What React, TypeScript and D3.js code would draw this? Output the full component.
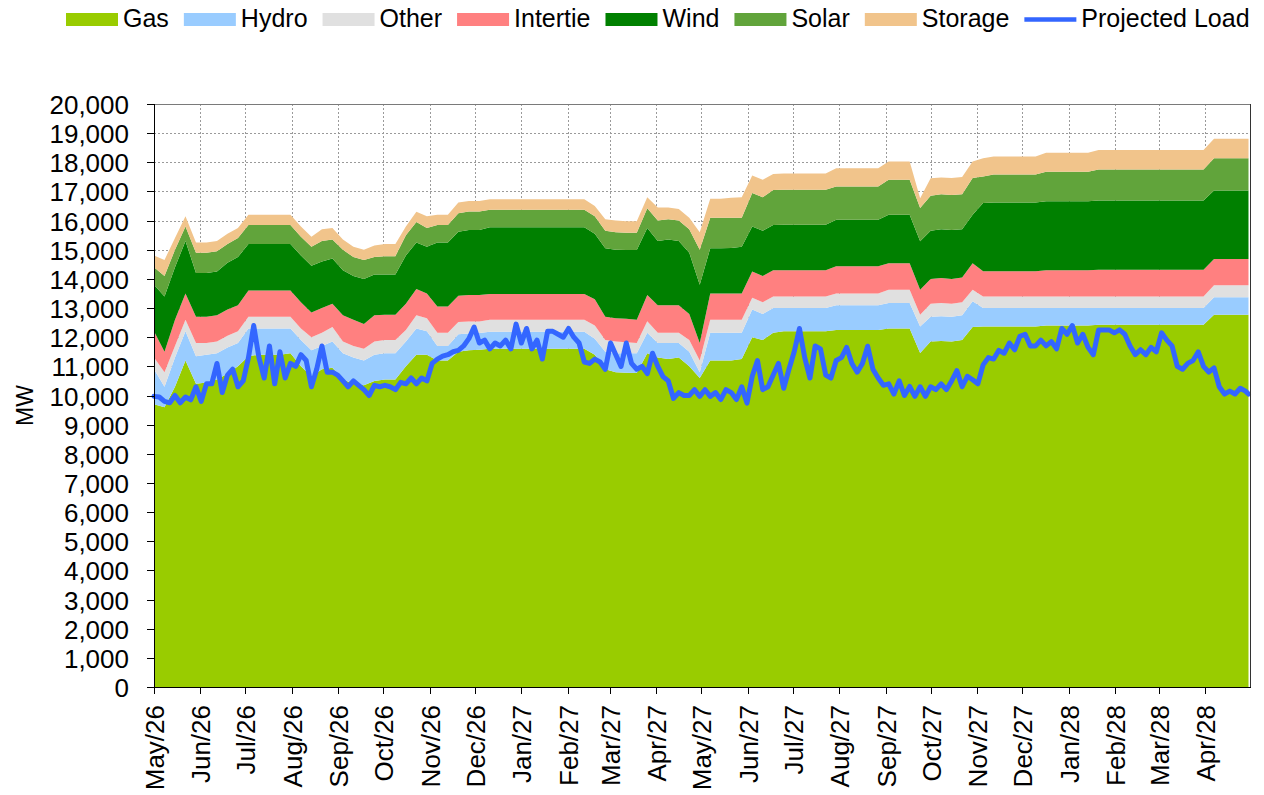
import * as d3 from "d3";
import React from "react";

// weekly samples from 1 May 2026, last one on 30 Apr 2028
const firstWeek = new Date(2026, 4, 1);
const weeks: Date[] = d3.range(105).map((i) => d3.timeDay.offset(firstWeek, i * 7));
weeks.push(new Date(2028, 3, 30));

// the load is read twice a week (every 84 h)
const loadDates: Date[] = d3.range(209).map((j) => d3.timeHour.offset(firstWeek, j * 84));
loadDates.push(new Date(2028, 3, 30));

const gas = [
  9700, 9600, 10300, 11200, 10400, 10450, 10550, 10750, 11000, 11350,
  11400, 11400, 11400, 11450, 11000, 10650, 10900, 10950, 10550, 10400,
  10350, 10500, 10550, 10550, 11000, 11400, 11400, 11200, 11200, 11500,
  11550, 11570, 11600, 11600, 11600, 11600, 11600, 11600, 11600, 11600,
  11600, 11600, 11400, 10900, 10800, 10780, 10770, 11450, 11300, 11250,
  11300, 11000, 10600, 11200, 11200, 11200, 11250, 12000, 11900, 12150,
  12200, 12200, 12200, 12200, 12200, 12250, 12250, 12250, 12250, 12250,
  12300, 12300, 12300, 11460, 11850, 11870, 11850, 11900, 12350, 12370,
  12370, 12370, 12370, 12370, 12370, 12400, 12400, 12400, 12400, 12400,
  12430, 12430, 12430, 12430, 12430, 12430, 12430, 12430, 12430, 12430,
  12430, 12770, 12770, 12770, 12770, 12770,
];
const hydro = [
  1200, 700, 1000, 1000, 950, 950, 900, 900, 800, 950,
  900, 900, 900, 850, 900, 900, 800, 900, 900, 900,
  850, 900, 900, 900, 850, 900, 800, 500, 500, 600,
  580, 570, 590, 590, 590, 590, 590, 590, 590, 590,
  590, 590, 550, 600, 650, 670, 680, 700, 500, 550,
  500, 500, 200, 950, 950, 950, 900, 950, 900, 850,
  800, 800, 800, 800, 800, 850, 850, 850, 850, 850,
  870, 870, 870, 910, 850, 850, 850, 850, 880, 630,
  630, 630, 630, 630, 630, 600, 600, 600, 600, 600,
  570, 570, 570, 570, 570, 570, 570, 570, 570, 570,
  570, 600, 600, 600, 600, 600,
];
const other = [
  400, 500, 400, 400, 450, 400, 400, 400, 400, 400,
  400, 400, 400, 400, 400, 450, 450, 500, 400, 400,
  400, 450, 450, 450, 400, 450, 450, 450, 450, 420,
  410, 400, 410, 410, 410, 410, 410, 410, 410, 410,
  410, 410, 450, 400, 400, 380, 350, 400, 350, 350,
  350, 400, 400, 450, 450, 450, 450, 400, 400, 400,
  400, 400, 400, 400, 400, 400, 400, 400, 400, 400,
  460, 460, 460, 400, 450, 450, 450, 450, 400, 400,
  400, 400, 400, 400, 400, 400, 400, 400, 400, 400,
  400, 400, 400, 400, 400, 400, 400, 400, 400, 400,
  400, 410, 410, 410, 410, 410,
];
const intertie = [
  900, 700, 900, 900, 900, 900, 900, 900, 900, 900,
  900, 900, 900, 900, 900, 850, 850, 800, 900, 900,
  850, 900, 870, 870, 900, 900, 850, 900, 900, 900,
  910, 910, 880, 880, 880, 880, 880, 880, 880, 880,
  880, 880, 900, 800, 800, 800, 800, 900, 950, 950,
  950, 900, 600, 900, 900, 900, 900, 900, 900, 900,
  900, 900, 900, 900, 900, 930, 930, 930, 930, 930,
  910, 910, 910, 860, 850, 860, 850, 850, 910, 860,
  860, 860, 860, 860, 860, 900, 900, 900, 900, 900,
  910, 910, 910, 910, 910, 910, 910, 910, 910, 910,
  910, 900, 900, 900, 900, 900,
];
const wind = [
  1600, 1900, 1800, 1800, 1500, 1500, 1500, 1600, 1650, 1600,
  1600, 1600, 1600, 1600, 1600, 1600, 1600, 1550, 1550, 1500,
  1550, 1400, 1380, 1380, 1650, 1600, 1600, 2200, 2200, 2200,
  2230, 2230, 2290, 2290, 2290, 2290, 2290, 2290, 2290, 2290,
  2290, 2290, 2250, 2350, 2350, 2360, 2390, 2300, 2200, 2250,
  2200, 2100, 2000, 1550, 1550, 1560, 1600, 1550, 1550, 1550,
  1560, 1560, 1560, 1560, 1560, 1600, 1600, 1600, 1600, 1600,
  1660, 1660, 1660, 1660, 1650, 1670, 1680, 1650, 1660, 2340,
  2360, 2360, 2360, 2360, 2360, 2360, 2360, 2360, 2360, 2360,
  2380, 2380, 2380, 2380, 2380, 2380, 2380, 2380, 2380, 2380,
  2380, 2350, 2350, 2350, 2350, 2350,
];
const solar = [
  600, 700, 600, 500, 700, 700, 700, 650, 650, 650,
  650, 650, 650, 650, 650, 650, 700, 650, 700, 650,
  650, 600, 630, 630, 700, 700, 650, 600, 600, 630,
  630, 630, 600, 600, 600, 600, 600, 600, 600, 600,
  600, 600, 600, 600, 600, 590, 590, 670, 700, 700,
  700, 800, 1200, 1050, 1050, 1040, 1000, 1150, 1150, 1200,
  1200, 1200, 1200, 1200, 1200, 1140, 1140, 1140, 1140, 1140,
  1200, 1200, 1200, 1140, 1200, 1200, 1200, 1200, 1260, 910,
  960, 960, 960, 960, 960, 1020, 1020, 1020, 1020, 1020,
  1060, 1060, 1060, 1060, 1060, 1060, 1060, 1060, 1060, 1060,
  1060, 1110, 1110, 1110, 1110, 1110,
];
const storage = [
  400, 550, 400, 350, 350, 350, 350, 350, 350, 350,
  350, 350, 350, 350, 350, 350, 400, 400, 350, 350,
  350, 400, 420, 420, 300, 350, 400, 350, 350, 370,
  360, 360, 360, 360, 360, 360, 360, 360, 360, 360,
  360, 360, 350, 400, 400, 400, 400, 380, 450, 400,
  400, 400, 600, 650, 650, 680, 700, 600, 600, 550,
  560, 560, 560, 560, 560, 630, 630, 630, 630, 630,
  630, 630, 630, 340, 600, 580, 580, 600, 570, 630,
  620, 620, 620, 620, 620, 650, 650, 650, 650, 650,
  670, 670, 670, 670, 670, 670, 670, 670, 670, 670,
  670, 670, 670, 670, 670, 670,
];
const projectedLoad = [
  9970, 9950, 9800, 9750, 10000, 9750, 9950, 9850, 10300, 9800,
  10400, 10400, 11100, 10100, 10700, 10900, 10300, 10500, 11300, 12400,
  11300, 10600, 11700, 10400, 11500, 10600, 11100, 11000, 11400, 11200,
  10300, 10900, 11700, 10800, 10800, 10700, 10500, 10300, 10500, 10350,
  10200, 10000, 10350, 10300, 10350, 10300, 10200, 10450, 10400, 10600,
  10400, 10600, 10500, 11100, 11250, 11350, 11400, 11500, 11550, 11700,
  11950, 12350, 11800, 11900, 11600, 11800, 11700, 11900, 11600, 12450,
  11800, 12300, 11600, 11900, 11250, 12200, 12200, 12100, 12000, 12300,
  12000, 11800, 11150, 11100, 11250, 11150, 10900, 11800, 11400, 11000,
  11800, 11100, 10900, 11000, 10750, 11450, 11000, 10650, 10500, 9900,
  10100, 10000, 10000, 10200, 9970, 10200, 9970, 10100, 9860, 10200,
  10100, 9860, 10300, 9740, 10660, 11200, 10200, 10300, 10700, 11100,
  10250, 10900, 11500, 12300, 11300, 10600, 11700, 11600, 10700, 10600,
  11200, 11300, 11650, 11100, 10800, 11100, 11690, 10900, 10600, 10350,
  10400, 10050, 10500, 10000, 10310, 9970, 10300, 9970, 10300, 10200,
  10400, 10200, 10500, 10850, 10300, 10660, 10540, 10400, 11050, 11300,
  11250, 11550, 11450, 11800, 11570, 12030, 12100, 11700, 11700, 11900,
  11700, 11850, 11600, 12300, 12100, 12400, 11800, 12100, 11650, 11400,
  12250, 12250, 12250, 12150, 12250, 12100, 11700, 11400, 11570, 11400,
  11650, 11500, 12150, 11900, 11700, 11000, 10900, 11100, 11200, 11500,
  11000, 10800, 10950, 10300, 10050, 10150, 10050, 10250, 10150, 10050,
];

const seriesNames = ["Gas", "Hydro", "Other", "Intertie", "Wind", "Solar", "Storage"];
const seriesColors = ["#99CC00", "#99CCFF", "#E0E0E0", "#FF8080", "#008000", "#61A43B", "#F1C48B"];
const seriesValues = [gas, hydro, other, intertie, wind, solar, storage];
const loadName = "Projected Load";
const loadColor = "#3366FF";

const yMax = 20000;
const yStep = 1000;

const W = 1264;
const H = 795;
const margin = { top: 104, right: 14, bottom: 108, left: 154 };
const FONT = "'Liberation Sans', Arial, sans-serif";

type Row = { date: Date } & Record<string, number>;

function measure(text: string, size: number) {
  const ctx = document.createElement("canvas").getContext("2d");
  if (!ctx) return text.length * size * 0.55;
  ctx.font = `${size}px 'Liberation Sans', Arial, sans-serif`;
  return ctx.measureText(text).width;
}

export default function App() {
  const x0 = margin.left;
  const x1 = W - margin.right;
  const y0 = H - margin.bottom;
  const y1 = margin.top;

  const x = d3
    .scaleTime()
    .domain([new Date(2026, 4, 1), new Date(2028, 4, 1)])
    .range([x0, x1]);
  const y = d3.scaleLinear().domain([0, yMax]).range([y0, y1]);

  const rows: Row[] = weeks.map((date, i) => {
    const r: Row = { date } as Row;
    seriesNames.forEach((n, k) => (r[n] = seriesValues[k][i]));
    return r;
  });
  const stacked = d3.stack<Row>().keys(seriesNames)(rows);

  const area = d3
    .area<d3.SeriesPoint<Row>>()
    .x((d) => x(d.data.date))
    .y0((d) => y(d[0]))
    .y1((d) => y(d[1]));

  const line = d3
    .line<number>()
    .x((_, i) => x(loadDates[i]))
    .y((d) => y(d));

  const yTicks = d3.range(0, yMax + 1, yStep);
  const months = d3.timeMonth.range(new Date(2026, 4, 1), new Date(2028, 4, 1));
  const fmtMonth = d3.timeFormat("%b/%y");
  const fmtNum = d3.format(",");

  // legend layout
  const legendSize = 25;
  const items = [...seriesNames, loadName];
  let cursor = 66;
  const legend = items.map((name, i) => {
    const item = { name, x: cursor, color: i < seriesNames.length ? seriesColors[i] : loadColor };
    cursor += 52 + 5 + measure(name, legendSize) + 15;
    return item;
  });

  return (
    <svg
      width={W}
      height={H}
      style={{ position: "absolute", left: 0, top: 0, background: "#fff", fontFamily: FONT }}
    >
      {/* grid */}
      <g stroke="#9a9a9a" strokeWidth={1} strokeDasharray="2,2">
        {yTicks
          .filter((v) => v > 0 && v < yMax)
          .map((v) => (
            <line key={v} x1={x0} x2={x1} y1={Math.round(y(v)) + 0.5} y2={Math.round(y(v)) + 0.5} />
          ))}
        {months.slice(1).map((m) => (
          <line key={+m} x1={Math.round(x(m)) + 0.5} x2={Math.round(x(m)) + 0.5} y1={y1} y2={y0} />
        ))}
      </g>

      {/* stacked areas */}
      {stacked.map((s, i) => (
        <path key={s.key} d={area(s) ?? ""} fill={seriesColors[i]} stroke="none" />
      ))}

      {/* projected load */}
      <path
        d={line(projectedLoad) ?? ""}
        fill="none"
        stroke={loadColor}
        strokeWidth={5}
        strokeLinejoin="round"
        strokeLinecap="round"
      />

      {/* frame */}
      <line x1={x0} x2={x1} y1={y1 + 0.5} y2={y1 + 0.5} stroke="#7a7a7a" strokeWidth={1} />
      <line x1={x1 + 0.5} x2={x1 + 0.5} y1={y1} y2={y0} stroke="#333" strokeWidth={1} />
      <line x1={x0 + 0.5} x2={x0 + 0.5} y1={y1} y2={y0 + 7} stroke="#000" strokeWidth={1} />
      <line x1={x0 - 7} x2={x1 + 1} y1={y0 + 0.5} y2={y0 + 0.5} stroke="#000" strokeWidth={1} />

      {/* y axis */}
      {yTicks.map((v) => (
        <g key={v} transform={`translate(0,${Math.round(y(v)) + 0.5})`}>
          <line x1={x0 - 7} x2={x0} stroke="#000" />
          <text x={x0 - 25} dy="0.36em" textAnchor="end" fontSize={26} fill="#000">
            {fmtNum(v)}
          </text>
        </g>
      ))}
      <text
        transform={`translate(33,${(y0 + y1) / 2 + 10}) rotate(-90)`}
        textAnchor="middle"
        fontSize={23}
        fill="#000"
      >
        MW
      </text>

      {/* x axis */}
      {months.map((m) => (
        <g key={+m} transform={`translate(${Math.round(x(m)) + 0.5},${y0})`}>
          <line y1={0} y2={7} stroke="#000" />
          <text transform="translate(0,18) rotate(-90)" dy="0.36em" textAnchor="end" fontSize={26} fill="#000">
            {fmtMonth(m)}
          </text>
        </g>
      ))}

      {/* legend */}
      {legend.map((it, i) => (
        <g key={it.name} transform={`translate(${it.x},0)`}>
          {i < seriesNames.length ? (
            <rect x={0} y={13} width={52} height={13} fill={it.color} />
          ) : (
            <line x1={0} x2={52} y1={19.5} y2={19.5} stroke={it.color} strokeWidth={4.5} />
          )}
          <text x={57} y={27} fontSize={legendSize} fill="#000">
            {it.name}
          </text>
        </g>
      ))}
    </svg>
  );
}
